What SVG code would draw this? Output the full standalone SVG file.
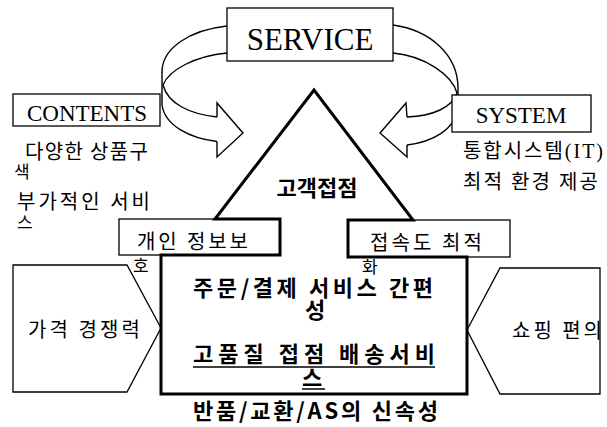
<svg xmlns="http://www.w3.org/2000/svg" width="607" height="427" viewBox="0 0 607 427">
<style>
.thin{fill:#fff;stroke:#000;stroke-width:1.3}
.thick{fill:none;stroke:#000;stroke-width:3;stroke-linejoin:miter}
.arc{fill:none;stroke:#000;stroke-width:1.4;stroke-linejoin:miter}
.en{font-family:"Liberation Serif","Times New Roman",serif;fill:#000}
.ko{font-family:"Noto Sans CJK KR","Noto Sans",sans-serif;font-size:20px;fill:#000}
.ks{font-family:"Noto Sans CJK KR","Noto Sans",sans-serif;font-size:17px;fill:#000}
.kb{font-family:"Noto Sans CJK KR","Noto Sans",sans-serif;font-size:22px;font-weight:bold;fill:#000}
</style>
<rect width="607" height="427" fill="#fff"/>
<g id="connectors">
  <g id="arrow-left">
    <path class="arc" d="M227,26 C190,30 162,48 162,72 L162,105 C165,126 190,138 217,141.5"/>
    <path class="arc" d="M227,53 C195,56 169,70 163,85 C168,104 190,114 217,117"/>
    <path class="arc" d="M217,117 L217,103 L243,133 L217,157 L217,141.5"/>
  </g>
  <g id="arrow-right">
    <path class="arc" d="M393,25 C430,30 458,55 458,88 L458,108 C455,130 432,142 407,145"/>
    <path class="arc" d="M393,53 C425,56 452,75 457,93 C452,108 432,116 407,117"/>
    <path class="arc" d="M407,117 L406,103 L380,133 L407,157 L407,145"/>
  </g>
</g>
<g id="service">
  <rect class="thin" x="227" y="8" width="166" height="53"/>
  <text class="en" x="310" y="50" font-size="31" text-anchor="middle">SERVICE</text>
</g>
<g id="contents">
  <rect class="thin" x="13" y="94" width="147" height="32"/>
  <text class="en" x="87" y="121" font-size="23" text-anchor="middle">CONTENTS</text>
  <text class="ko" x="25" y="159" textLength="123">다양한 상품구</text>
  <text class="ks" x="14" y="178">색</text>
  <text class="ko" x="17" y="209" textLength="133">부가적인 서비</text>
  <text class="ks" x="17" y="229">스</text>
</g>
<g id="system">
  <rect class="thin" x="452" y="95" width="139" height="37"/>
  <text class="en" x="521" y="123" font-size="23" text-anchor="middle">SYSTEM</text>
  <text class="ko" x="463" y="158" textLength="140">통합시스템<tspan class="en">(IT)</tspan></text>
  <text class="ko" x="463" y="189" textLength="135">최적 환경 제공</text>
</g>
<g id="price">
  <path class="thin" d="M13,265 L127,265 L161,328 L127,392 L13,392 Z"/>
  <text class="ko" x="28" y="337" textLength="112">가격 경쟁력</text>
</g>
<g id="shopping">
  <path class="thin" d="M500,268 L600,268 L600,394 L500,394 L467,330 Z"/>
  <text class="ko" x="512" y="338" textLength="90">쇼핑 편의</text>
</g>
<g id="privacy">
  <rect class="thin" x="119" y="219" width="161" height="36"/>
  <text class="ko" x="137" y="249" textLength="111">개인 정보보</text>
  <text class="ks" x="133" y="272">호</text>
</g>
<g id="access">
  <rect class="thin" x="348" y="220" width="162" height="37"/>
  <text class="ko" x="370" y="250" textLength="112">접속도 최적</text>
  <text class="ks" x="362" y="273">화</text>
</g>
<g id="touchpoint">
  <path class="thick" d="M280,255 L280,219 L215,219 L314,90 L413,220 L348,220 L348,257 L467,257 L467,394 L161,394 L161,255 Z"/>
  <text class="kb" x="317" y="196" font-size="18" text-anchor="middle">고객접점</text>
  <text class="kb" x="193" y="296" textLength="240">주문/결제 서비스 간편</text>
  <text class="kb" x="305" y="318">성</text>
  <text class="kb" x="193" y="362" textLength="242">고품질 접점 배송서비</text>
  <line x1="193" y1="367" x2="435" y2="367" stroke="#000" stroke-width="1.5"/>
  <text class="kb" x="302" y="386">스</text>
  <line x1="302" y1="389" x2="325" y2="389" stroke="#000" stroke-width="1.5"/>
  <text class="kb" x="193" y="419" textLength="245">반품/교환/AS의 신속성</text>
</g>
</svg>
